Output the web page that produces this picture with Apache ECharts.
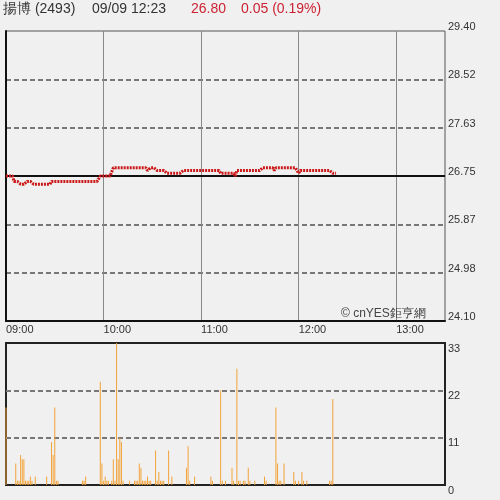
<!DOCTYPE html>
<html>
<head>
<meta charset="utf-8">
<script src="https://cdn.jsdelivr.net/npm/echarts@6/dist/echarts.min.js"></script>
<style>
  html, body { margin: 0; padding: 0; background: #f0f0f0; }
  #main { width: 500px; height: 500px; }
</style>
</head>
<body>
<div id="main"></div>
<script>
// 昨收 / 即時
var prevClose = 26.75
var priceTicks = [24.10, 24.98, 25.87, 26.75, 27.63, 28.52, 29.40]
var timeLabels = ['09:00', '10:00', '11:00', '12:00', '13:00']

// 每分鐘成交價 09:00 ~ 12:23
var prices = [
  26.75, 26.75, 26.75, 26.75, 26.75, 26.65, 26.65, 26.65, 26.65, 26.60,
  26.60, 26.60, 26.60, 26.65, 26.65, 26.65, 26.65, 26.60, 26.60, 26.60,
  26.60, 26.60, 26.60, 26.60, 26.60, 26.60, 26.60, 26.60, 26.65, 26.65,
  26.65, 26.65, 26.65, 26.65, 26.65, 26.65, 26.65, 26.65, 26.65, 26.65,
  26.65, 26.65, 26.65, 26.65, 26.65, 26.65, 26.65, 26.65, 26.65, 26.65,
  26.65, 26.65, 26.65, 26.65, 26.65, 26.65, 26.65, 26.65, 26.75, 26.75,
  26.75, 26.75, 26.75, 26.75, 26.75, 26.75, 26.90, 26.90, 26.90, 26.90,
  26.90, 26.90, 26.90, 26.90, 26.90, 26.90, 26.90, 26.90, 26.90, 26.90,
  26.90, 26.90, 26.90, 26.90, 26.90, 26.90, 26.90, 26.85, 26.85, 26.90,
  26.90, 26.90, 26.90, 26.85, 26.85, 26.85, 26.85, 26.85, 26.85, 26.80,
  26.80, 26.80, 26.80, 26.80, 26.80, 26.80, 26.80, 26.80, 26.80, 26.85,
  26.85, 26.85, 26.85, 26.85, 26.85, 26.85, 26.85, 26.85, 26.85, 26.85,
  26.85, 26.85, 26.85, 26.85, 26.85, 26.85, 26.85, 26.85, 26.85, 26.85,
  26.85, 26.85, 26.80, 26.80, 26.80, 26.80, 26.80, 26.80, 26.80, 26.80,
  26.80, 26.75, 26.85, 26.85, 26.85, 26.85, 26.85, 26.85, 26.85, 26.85,
  26.85, 26.85, 26.85, 26.85, 26.85, 26.85, 26.85, 26.85, 26.90, 26.90,
  26.90, 26.90, 26.90, 26.90, 26.90, 26.85, 26.90, 26.90, 26.90, 26.90,
  26.90, 26.90, 26.90, 26.90, 26.90, 26.90, 26.90, 26.90, 26.90, 26.85,
  26.80, 26.85, 26.85, 26.85, 26.85, 26.85, 26.85, 26.85, 26.85, 26.85,
  26.85, 26.85, 26.85, 26.85, 26.85, 26.85, 26.85, 26.85, 26.85, 26.85,
  26.85, 26.80, 26.80, 26.80
]

// 每分鐘成交量 (張)
var volumes = [
  18, 0, 0, 0, 0, 0, 5, 1, 1, 7,
  6, 6, 1, 1, 1, 2, 1, 0, 2, 0,
  0, 0, 0, 0, 0, 2, 0, 0, 10, 7,
  18, 1, 1, 0, 0, 0, 0, 0, 0, 0,
  0, 0, 0, 0, 0, 0, 0, 1, 1, 2,
  0, 0, 0, 0, 0, 0, 0, 0, 24, 5,
  1, 2, 1, 1, 0, 1, 6, 1, 33, 6,
  11, 10, 1, 0, 0, 0, 1, 0, 0, 1,
  1, 1, 5, 4, 1, 1, 1, 2, 1, 1,
  0, 0, 8, 1, 3, 1, 1, 1, 0, 0,
  8, 0, 2, 0, 0, 0, 0, 0, 0, 0,
  0, 4, 9, 1, 0, 0, 2, 0, 0, 0,
  0, 0, 0, 0, 0, 0, 2, 1, 0, 0,
  0, 0, 22, 1, 0, 1, 0, 0, 0, 4,
  1, 0, 27, 1, 1, 0, 1, 1, 0, 4,
  1, 0, 0, 1, 0, 0, 0, 0, 0, 2,
  1, 0, 0, 0, 0, 0, 18, 5, 1, 1,
  0, 5, 0, 0, 0, 0, 0, 3, 1, 0,
  1, 0, 3, 1, 0, 1, 0, 0, 0, 0,
  0, 0, 0, 0, 0, 0, 0, 0, 0, 1,
  1, 20, 0, 0
]

var priceData = prices.map(function (p, i) { return [i, p] })
var volData = volumes.map(function (v, i) { return [i, v] })

var fmtTime = function (m) {
  var h = 9 + Math.floor(m / 60)
  var mm = m % 60
  return (h < 10 ? '0' + h : '' + h) + ':' + (mm < 10 ? '0' + mm : '' + mm)
}

var font = 'Liberation Sans, Arial, sans-serif'
var dashLine = { color: '#777', width: 2, type: [5, 3] }

var myChart = echarts.init(document.getElementById('main'))
myChart.setOption({
  backgroundColor: '#f0f0f0',
  animation: false,
  textStyle: { fontFamily: font },
  graphic: [
    { type: 'text', left: 3, top: 2, style: { text: '揚博 (2493)', font: '14px ' + font, fill: '#333' } },
    { type: 'text', left: 92, top: 2, style: { text: '09/09 12:23', font: '14px ' + font, fill: '#333' } },
    { type: 'text', left: 191, top: 2, style: { text: '26.80', font: '14px ' + font, fill: '#cc2233' } },
    { type: 'text', left: 241, top: 2, style: { text: '0.05 (0.19%)', font: '14px ' + font, fill: '#cc2233' } },
    { type: 'text', left: 341, top: 308, z: 100, style: { text: '© cnYES鉅亨網', font: '12px ' + font, fill: '#444' } }
  ],
  grid: [
    { left: 6, right: 55, top: 31, height: 290, show: true, borderColor: '#555', borderWidth: 1 },
    { left: 6, right: 55, top: 343, height: 142, show: true, borderColor: '#222', borderWidth: 2 }
  ],
  xAxis: [
    {
      type: 'value', gridIndex: 0, min: 0, max: 270, interval: 60,
      axisLine: { show: true, onZero: false, lineStyle: { color: '#111', width: 2 } },
      axisTick: { show: false },
      axisLabel: {
        color: '#333', fontSize: 11, align: 'left', margin: 3, showMaxLabel: false,
        formatter: function (v) { return fmtTime(v) }
      },
      splitLine: { show: true, showMinLine: false, showMaxLine: false, lineStyle: { color: '#888', width: 1 } }
    },
    {
      type: 'value', gridIndex: 1, min: 0, max: 270, interval: 60,
      axisLine: { show: false }, axisTick: { show: false },
      axisLabel: { show: false }, splitLine: { show: false }
    }
  ],
  yAxis: [
    {
      type: 'value', gridIndex: 0, position: 'right',
      min: priceTicks[0], max: priceTicks[priceTicks.length - 1],
      interval: (priceTicks[priceTicks.length - 1] - priceTicks[0]) / 6,
      axisLine: { show: true, lineStyle: { color: '#111', width: 2 } },
      axisTick: { show: false },
      axisLabel: {
        color: '#333', fontSize: 11, margin: 3, verticalAlign: 'bottom', lineHeight: 8,
        formatter: function (v) { return v.toFixed(2) }
      },
      splitLine: { show: true, showMinLine: false, showMaxLine: false, lineStyle: dashLine }
    },
    {
      type: 'value', gridIndex: 1, position: 'right', min: 0, max: 33, interval: 11,
      axisLine: { show: false }, axisTick: { show: false },
      axisLabel: { color: '#333', fontSize: 11, margin: 3, verticalAlign: 'top' },
      splitLine: { show: true, showMinLine: false, showMaxLine: false, lineStyle: dashLine }
    }
  ],
  series: [
    {
      type: 'line', xAxisIndex: 0, yAxisIndex: 0, data: priceData,
      showSymbol: false, z: 5,
      lineStyle: { color: '#cc1818', width: 3, type: [2, 1] },
      markLine: {
        silent: true, symbol: 'none', label: { show: false },
        lineStyle: { color: '#111', width: 2, type: 'solid' },
        data: [{ yAxis: prevClose }],
        z: 1
      }
    },
    {
      type: 'bar', xAxisIndex: 1, yAxisIndex: 1, data: volData,
      barWidth: 1, itemStyle: { color: '#f2a33a' }
    }
  ]
})
</script>
</body>
</html>
